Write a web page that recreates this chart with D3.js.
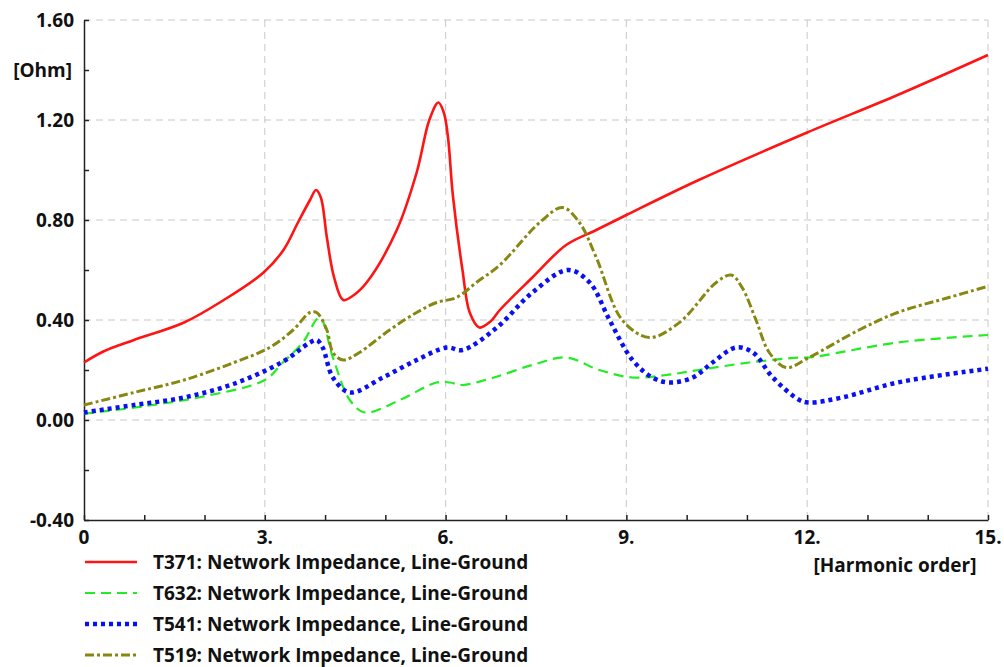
<!DOCTYPE html>
<html lang="en">
<head>
<meta charset="utf-8">
<title>Network Impedance</title>
<script src="https://cdn.jsdelivr.net/npm/d3@7"></script>
<style>
  body { margin: 0; background: #fff; }
  text { font-family: "Open Sans", sans-serif; font-weight: 700; fill: #111; }
</style>
</head>
<body>
<script>
// harmonic order / impedance [Ohm]
var redX   = [0, 0.33, 0.83, 1.66, 2.32, 2.98, 3.31, 3.55, 3.75, 3.85, 3.93, 4.03, 4.15, 4.3, 4.45, 4.69, 5.19, 5.52, 5.73, 5.88, 5.97, 6.04, 6.12, 6.28, 6.4, 6.56, 6.75, 6.9, 7.44, 8.0, 8.5, 9.0, 10.2, 12.0, 13.5, 15];
var redY   = [0.23, 0.275, 0.32, 0.39, 0.48, 0.59, 0.68, 0.79, 0.88, 0.92, 0.89, 0.73, 0.57, 0.48, 0.495, 0.55, 0.76, 0.99, 1.20, 1.27, 1.23, 1.13, 0.90, 0.60, 0.43, 0.37, 0.395, 0.44, 0.57, 0.70, 0.76, 0.82, 0.96, 1.15, 1.30, 1.46];

var greenX = [0, 1, 2, 3, 3.3, 3.63, 3.91, 4.13, 4.41, 4.66, 5.24, 5.85, 6.07, 6.28, 6.8, 7.44, 8.0, 8.55, 9.1, 9.66, 10.2, 11.04, 11.87, 12.03, 13.5, 15];
var greenY = [0.025, 0.055, 0.095, 0.16, 0.23, 0.31, 0.41, 0.25, 0.08, 0.03, 0.08, 0.15, 0.15, 0.14, 0.17, 0.22, 0.25, 0.20, 0.17, 0.18, 0.20, 0.23, 0.25, 0.25, 0.31, 0.34];

var blueX  = [0, 0.83, 1.66, 2.49, 3.31, 3.75, 3.86, 3.96, 4.13, 4.41, 4.96, 5.52, 6.02, 6.28, 6.85, 7.44, 8.03, 8.39, 8.72, 9.1, 9.43, 9.71, 10.1, 10.43, 10.82, 11.1, 11.43, 11.87, 12.03, 12.58, 13.5, 15];
var blueY  = [0.03, 0.06, 0.09, 0.145, 0.235, 0.31, 0.32, 0.29, 0.17, 0.11, 0.17, 0.24, 0.29, 0.28, 0.37, 0.51, 0.60, 0.55, 0.40, 0.24, 0.17, 0.15, 0.17, 0.23, 0.29, 0.27, 0.17, 0.08, 0.07, 0.09, 0.15, 0.205];

var oliveX = [0, 0.83, 1.66, 2.49, 3.08, 3.47, 3.75, 3.86, 4.03, 4.13, 4.3, 4.57, 5.07, 5.52, 5.85, 6.18, 6.51, 6.9, 7.56, 7.94, 8.22, 8.5, 8.93, 9.38, 9.88, 10.49, 10.74, 10.92, 11.15, 11.37, 11.65, 12.03, 12.86, 13.5, 14.35, 15];
var oliveY = [0.06, 0.11, 0.16, 0.23, 0.29, 0.36, 0.43, 0.43, 0.36, 0.27, 0.24, 0.27, 0.36, 0.43, 0.47, 0.49, 0.55, 0.62, 0.79, 0.85, 0.79, 0.65, 0.40, 0.33, 0.39, 0.55, 0.58, 0.53, 0.40, 0.27, 0.21, 0.25, 0.36, 0.43, 0.49, 0.535];

var seriesNames = ["T371: Network Impedance, Line-Ground", "T632: Network Impedance, Line-Ground",
                   "T541: Network Impedance, Line-Ground", "T519: Network Impedance, Line-Ground"];
var xTicks = [0, 3, 6, 9, 12, 15];
var xTickLabels = ["0", "3.", "6.", "9.", "12.", "15."];
var yTicks = [-0.4, 0, 0.4, 0.8, 1.2, 1.6];
var yTickLabels = ["-0.40", "0.00", "0.40", "0.80", "1.20", "1.60"];

var w = 1004, h = 667;
var plotLeft = 84, plotRight = 988, plotTop = 20, plotBottom = 520;

var svg = d3.select("body").append("svg").attr("width", w).attr("height", h);

var x = d3.scaleLinear().domain([0, 15]).range([plotLeft, plotRight]);
var y = d3.scaleLinear().domain([-0.4, 1.6]).range([plotBottom, plotTop]);

// dashed grid
svg.selectAll("line.vgrid").data(xTicks.slice(1)).enter().append("line")
    .attr("x1", d => x(d)).attr("x2", d => x(d)).attr("y1", plotTop).attr("y2", plotBottom)
    .style("stroke", "#c8c8c8").style("stroke-dasharray", "7,5");
svg.selectAll("line.hgrid").data(yTicks.slice(1)).enter().append("line")
    .attr("x1", plotLeft).attr("x2", plotRight).attr("y1", d => y(d)).attr("y2", d => y(d))
    .style("stroke", "#c8c8c8").style("stroke-dasharray", "7,5");

// axes with inner ticks
var xAxis = d3.axisBottom(x).tickValues(d3.range(0, 15.5, 1)).tickSizeInner(-5).tickSizeOuter(0).tickFormat("");
svg.append("g").attr("transform", "translate(0," + plotBottom + ")").call(xAxis)
    .call(g => g.selectAll("line, path").style("stroke", "#222").style("stroke-width", 1.5));
var yAxis = d3.axisLeft(y).tickValues(d3.range(-0.4, 1.61, 0.2)).tickSizeInner(-5).tickSizeOuter(0).tickFormat("");
svg.append("g").attr("transform", "translate(" + plotLeft + ",0)").call(yAxis)
    .call(g => g.selectAll("line, path").style("stroke", "#222").style("stroke-width", 1.5));

svg.selectAll("text.xt").data(xTicks).enter().append("text")
    .attr("x", d => x(d)).attr("y", plotBottom + 24)
    .attr("text-anchor", "middle").style("font-size", "19px")
    .text((d, i) => xTickLabels[i]);
svg.selectAll("text.yt").data(yTicks).enter().append("text")
    .attr("x", plotLeft - 10).attr("y", d => y(d) + 7)
    .attr("text-anchor", "end").style("font-size", "19px")
    .text((d, i) => yTickLabels[i]);

svg.append("text").attr("x", plotLeft - 12).attr("y", y(1.4) + 7)
    .attr("text-anchor", "end").style("font-size", "19px").text("[Ohm]");
svg.append("text").attr("x", 895).attr("y", 572)
    .attr("text-anchor", "middle").style("font-size", "19px").text("[Harmonic order]");

// curves
var styles = [
    { color: "#ff1414", width: 2.6, dash: null },
    { color: "#22ec22", width: 2.2, dash: "10,6" },
    { color: "#0a10f2", width: 4.5, dash: "4,4" },
    { color: "#878712", width: 3, dash: "9,3,3,3" }
];
var series = [[redX, redY], [greenX, greenY], [blueX, blueY], [oliveX, oliveY]];

var line = d3.line().x(d => x(d[0])).y(d => y(d[1])).curve(d3.curveCatmullRom.alpha(0.5));

series.forEach(function (s, i) {
    var pts = s[0].map((v, j) => [v, s[1][j]]);
    svg.append("path").datum(pts)
        .attr("d", line)
        .style("fill", "none")
        .style("stroke", styles[i].color)
        .style("stroke-width", styles[i].width)
        .style("stroke-dasharray", styles[i].dash);
});

// legend
var legendY = [562, 593, 624, 655];
seriesNames.forEach(function (name, i) {
    svg.append("line").attr("x1", 85).attr("x2", 137).attr("y1", legendY[i]).attr("y2", legendY[i])
        .style("stroke", styles[i].color)
        .style("stroke-width", styles[i].width)
        .style("stroke-dasharray", styles[i].dash);
    svg.append("text").attr("x", 153).attr("y", legendY[i] + 7)
        .style("font-size", "19px").text(name);
});
</script>
</body>
</html>
